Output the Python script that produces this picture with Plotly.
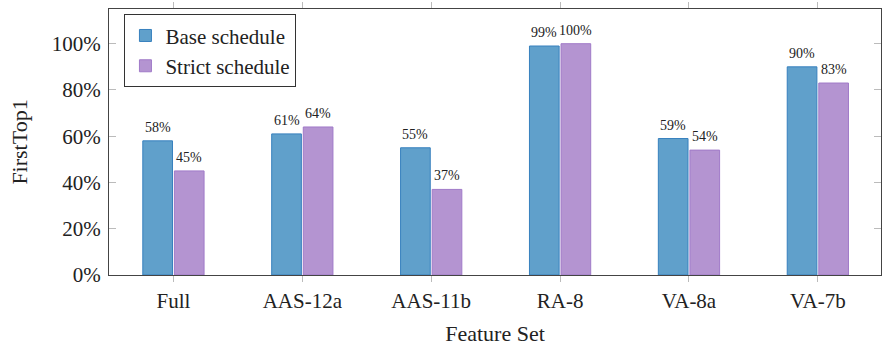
import plotly.graph_objects as go

categories = ["Full", "AAS-12a", "AAS-11b", "RA-8", "VA-8a", "VA-7b"]
base_values = [58, 61, 55, 99, 59, 90]
strict_values = [45, 64, 37, 100, 54, 83]
y_tick_values = [0, 20, 40, 60, 80, 100]
y_tick_labels = ["0%", "20%", "40%", "60%", "80%", "100%"]

FONT = "Liberation Serif, Times New Roman, serif"
TXT = "#222"
BARGAP = 0.51

fig = go.Figure()
fig.add_trace(go.Bar(
    name="Base schedule", x=categories, y=base_values,
    marker=dict(color="rgb(96,160,203)", line=dict(color="rgb(55,128,190)", width=1)),
))
fig.add_trace(go.Bar(
    name="Strict schedule", x=categories, y=strict_values,
    marker=dict(color="rgb(180,148,209)", line=dict(color="rgb(160,122,200)", width=1)),
))

# value labels centred above each bar (bar centre offset derived from bargap)
half_slot = (1 - BARGAP) / 4
annotations = []
for i, (b, s) in enumerate(zip(base_values, strict_values)):
    for xpos, v in ((i - half_slot, b), (i + half_slot, s)):
        annotations.append(dict(
            x=xpos, y=v, xref="x", yref="y", text=f"{v}%", showarrow=False,
            yanchor="bottom", xanchor="center", yshift=4,
            font=dict(family=FONT, size=14, color=TXT),
        ))

fig.update_layout(
    width=883, height=346,
    margin=dict(l=109, r=2, t=9, b=71, autoexpand=False),
    paper_bgcolor="white", plot_bgcolor="white",
    barmode="group", bargap=BARGAP, bargroupgap=0.06,
    font=dict(family=FONT, size=21, color=TXT),
    legend=dict(
        x=0.02, y=0.98, xanchor="left", yanchor="top",
        bordercolor="#333", borderwidth=1, bgcolor="white",
        font=dict(family=FONT, size=21, color=TXT),
        itemwidth=30, tracegroupgap=0,
    ),
    annotations=annotations,
)
fig.update_xaxes(
    range=[-0.5, 5.49], automargin=False,
    showline=True, linecolor="#444", linewidth=1, mirror="ticks",
    ticks="outside", ticklen=6, tickcolor="#bbb", tickwidth=1,
    showgrid=False, zeroline=False,
    tickfont=dict(family=FONT, size=21, color=TXT),
    ticklabelstandoff=1,
    title=dict(text="Feature Set", font=dict(family=FONT, size=22, color=TXT), standoff=16),
)
fig.update_yaxes(
    range=[0, 115], automargin=False,
    tickvals=y_tick_values, ticktext=y_tick_labels,
    showline=True, linecolor="#444", linewidth=1, mirror="ticks",
    ticks="inside", ticklen=7, tickcolor="#bbb", tickwidth=1,
    showgrid=False, zeroline=False,
    tickfont=dict(family=FONT, size=21, color=TXT),
    ticklabelstandoff=3,
    title=dict(text="FirstTop1", font=dict(family=FONT, size=22, color=TXT), standoff=18),
)

fig.write_html(
    "out.html",
    config={"displayModeBar": False},
    post_script="document.body.style.margin='0';document.body.style.overflow='hidden';",
)
